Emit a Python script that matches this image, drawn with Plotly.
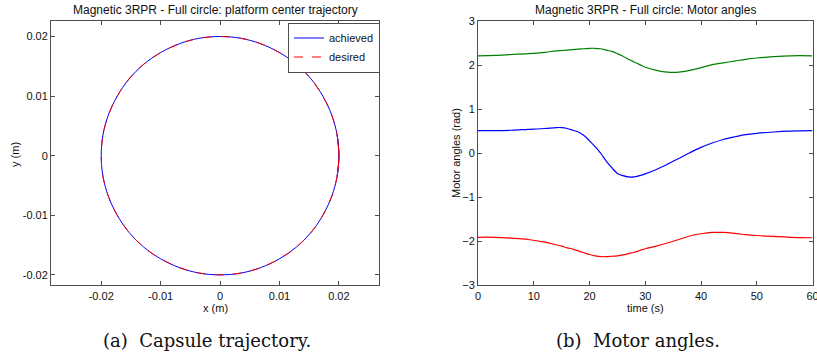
import plotly.graph_objects as go

# ---- Left panel: platform center trajectory (m) ----
traj_x = [0.0197, 0.0200, 0.0197, 0.0188, 0.0173, 0.0153, 0.0129, 0.0100, 0.0068, 0.0035, 0.0000,
          -0.0035, -0.0068, -0.0100, -0.0129, -0.0153, -0.0173, -0.0188, -0.0197, -0.0200,
          -0.0197, -0.0188, -0.0173, -0.0153, -0.0129, -0.0100, -0.0068, -0.0035, 0.0000,
          0.0035, 0.0068, 0.0100, 0.0129, 0.0153, 0.0173, 0.0188, 0.0197, 0.0200, 0.0197]
traj_y = [-0.0035, 0.0000, 0.0035, 0.0068, 0.0100, 0.0129, 0.0153, 0.0173, 0.0188, 0.0197, 0.0200,
          0.0197, 0.0188, 0.0173, 0.0153, 0.0129, 0.0100, 0.0068, 0.0035, 0.0000,
          -0.0035, -0.0068, -0.0100, -0.0129, -0.0153, -0.0173, -0.0188, -0.0197, -0.0200,
          -0.0197, -0.0188, -0.0173, -0.0153, -0.0129, -0.0100, -0.0068, -0.0035, 0.0000, 0.0035]
xy_ticks = [-0.02, -0.01, 0, 0.01, 0.02]
xy_ticktext = ["-0.02", "-0.01", "0", "0.01", "0.02"]

# ---- Right panel: motor angles (rad) ----
time_s = [0, 3, 6, 9, 12, 14, 15, 16, 17, 18, 19, 20, 21, 22, 23, 24, 25, 26, 27, 28, 29, 30,
          32, 34, 36, 38, 40, 42, 44, 46, 48, 50, 53, 56, 60]
motor_green = [2.21, 2.22, 2.24, 2.26, 2.29, 2.32, 2.33, 2.34, 2.35, 2.36, 2.37, 2.38, 2.38, 2.37,
               2.34, 2.31, 2.26, 2.20, 2.13, 2.07, 2.01, 1.95, 1.88, 1.84, 1.84, 1.88, 1.94,
               2.01, 2.05, 2.09, 2.13, 2.16, 2.19, 2.21, 2.21]
motor_blue = [0.51, 0.51, 0.52, 0.54, 0.56, 0.58, 0.58, 0.56, 0.52, 0.48, 0.40, 0.28, 0.15, 0.00,
              -0.18, -0.33, -0.46, -0.51, -0.54, -0.54, -0.51, -0.47, -0.37, -0.25, -0.12, 0.01,
              0.13, 0.23, 0.31, 0.37, 0.42, 0.45, 0.48, 0.50, 0.51]
motor_red = [-1.91, -1.91, -1.93, -1.96, -2.02, -2.08, -2.11, -2.15, -2.18, -2.22, -2.26, -2.30,
             -2.33, -2.35, -2.35, -2.34, -2.33, -2.31, -2.28, -2.25, -2.21, -2.17, -2.11, -2.04,
             -1.96, -1.88, -1.83, -1.80, -1.80, -1.82, -1.85, -1.87, -1.89, -1.91, -1.92]
time_ticks = [0, 10, 20, 30, 40, 50, 60]
angle_ticks = [-3, -2, -1, 0, 1, 2, 3]

W, H = 817, 358
SANS = "Liberation Sans, Arial, sans-serif"
SERIF = "DejaVu Serif, serif"
AX = "#4d4d4d"

fig = go.Figure()
fig.add_trace(go.Scatter(x=traj_x, y=traj_y, mode="lines", name="achieved",
                         line=dict(color="blue", width=1, shape="spline"),
                         xaxis="x", yaxis="y"))
fig.add_trace(go.Scatter(x=traj_x, y=traj_y, mode="lines", name="desired",
                         line=dict(color="red", width=1, dash="dash", shape="spline"),
                         xaxis="x", yaxis="y"))
fig.add_trace(go.Scatter(x=time_s, y=motor_blue, mode="lines", showlegend=False,
                         line=dict(color="blue", width=1.2, shape="spline"), xaxis="x2", yaxis="y2"))
fig.add_trace(go.Scatter(x=time_s, y=motor_green, mode="lines", showlegend=False,
                         line=dict(color="green", width=1.2, shape="spline"), xaxis="x2", yaxis="y2"))
fig.add_trace(go.Scatter(x=time_s, y=motor_red, mode="lines", showlegend=False,
                         line=dict(color="red", width=1.2, shape="spline"), xaxis="x2", yaxis="y2"))

ydom = [1 - 285.3 / H, 1 - 21 / H]
common = dict(showline=True, linecolor=AX, linewidth=1, mirror="allticks", ticks="inside",
              ticklen=4, tickcolor=AX, showgrid=False, zeroline=False,
              ticklabeloverflow="allow",
              tickfont=dict(family=SANS, size=11, color="#111"))

fig.update_layout(
    width=W, height=H, margin=dict(l=0, r=0, t=0, b=0, autoexpand=False),
    paper_bgcolor="white", plot_bgcolor="white",
    xaxis=dict(domain=[51 / W, 379.3 / W], range=[-0.02845, 0.0268], tickvals=xy_ticks,
               ticktext=xy_ticktext, anchor="y", automargin=False, **common),
    yaxis=dict(domain=ydom, range=[-0.02175, 0.0226], tickvals=xy_ticks,
               ticktext=xy_ticktext, anchor="x", automargin=False, **common),
    xaxis2=dict(domain=[478 / W, 812.5 / W], range=[0, 60], tickvals=time_ticks, anchor="y2",
                automargin=False, **common),
    yaxis2=dict(domain=ydom, range=[-3, 3], tickvals=angle_ticks, anchor="x2",
                automargin=False, **common),
    showlegend=True,
    legend=dict(x=380 / W, y=1 - 22.5 / H, xanchor="right", yanchor="top",
                bgcolor="white", bordercolor=AX, borderwidth=1,
                font=dict(family=SANS, size=11, color="#111"),
                itemwidth=30, tracegroupgap=0),
)

def ann(text, x, y, size, family=SANS, angle=0):
    fig.add_annotation(text=text, x=x / W, y=1 - y / H, xref="paper", yref="paper",
                       showarrow=False, textangle=angle, xanchor="center", yanchor="middle",
                       font=dict(family=family, size=size, color="#111"))

ann("Magnetic 3RPR - Full circle: platform center trajectory", 215, 10, 12)
ann("Magnetic 3RPR - Full circle: Motor angles", 645.7, 10, 12)
ann("x (m)", 215, 308, 11)
ann("time (s)", 645, 308, 11)
ann("y (m)", 15, 155, 11, angle=-90)
ann("Motor angles (rad)", 456, 153, 11, angle=-90)
ann("(a)  Capsule trajectory.", 207, 340, 18, family=SERIF)
ann("(b)  Motor angles.", 638, 340, 18, family=SERIF)

fig.write_html("out.html", config={"displayModeBar": False},
               post_script="document.body.style.margin='0px';")
